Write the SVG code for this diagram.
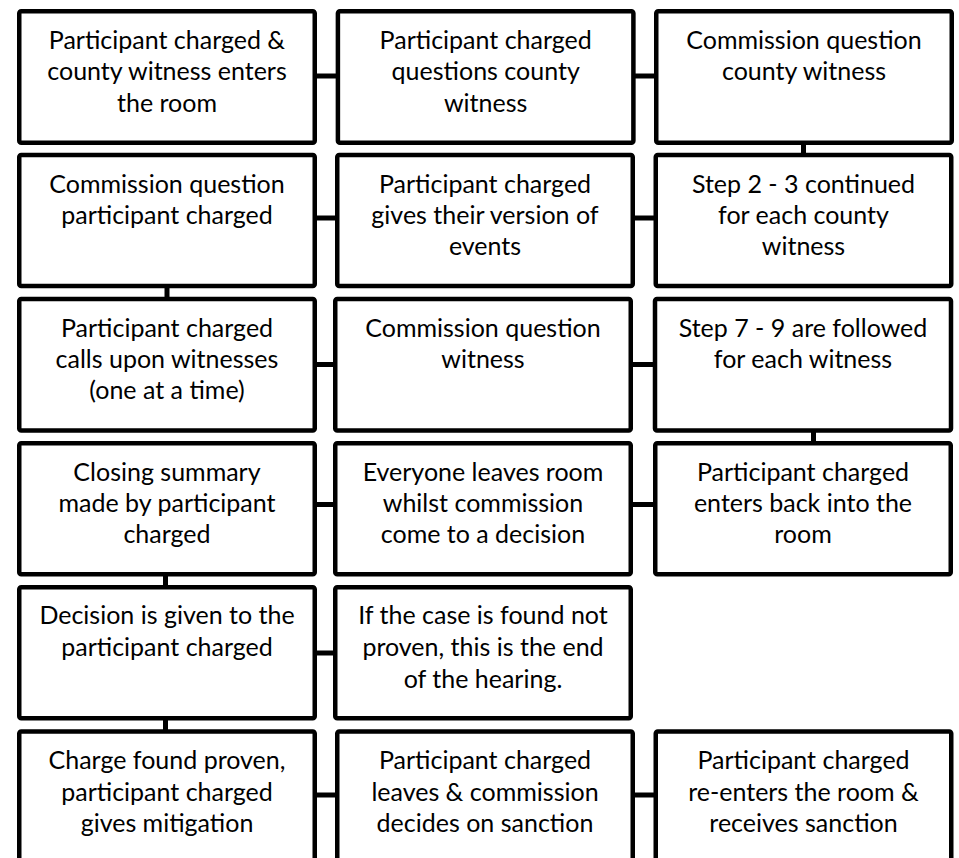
<svg xmlns="http://www.w3.org/2000/svg" width="959" height="858" viewBox="0 0 959 858">
<style>
.box{fill:#fff;stroke:#000;stroke-width:4.5;}
.t{font-family:Lato,"Liberation Sans",sans-serif;font-size:25px;fill:#000;text-anchor:middle;}
.c{stroke:#000;stroke-width:5;fill:none;}
</style>
<rect width="959" height="858" fill="#fff"/>
<g id="connectors">
<line class="c" x1="316" y1="76" x2="337" y2="76"/>
<line class="c" x1="634" y1="76" x2="655" y2="76"/>
<line class="c" x1="803.5" y1="143" x2="803.5" y2="155"/>
<line class="c" x1="316" y1="218" x2="337" y2="218"/>
<line class="c" x1="634" y1="218" x2="655" y2="218"/>
<line class="c" x1="167" y1="287" x2="167" y2="299"/>
<line class="c" x1="316" y1="364.5" x2="338" y2="364.5"/>
<line class="c" x1="632" y1="364.5" x2="655" y2="364.5"/>
<line class="c" x1="813.5" y1="431" x2="813.5" y2="443"/>
<line class="c" x1="316" y1="504.5" x2="338" y2="504.5"/>
<line class="c" x1="632" y1="504.5" x2="655" y2="504.5"/>
<line class="c" x1="165.5" y1="575" x2="165.5" y2="587"/>
<line class="c" x1="316" y1="653" x2="335" y2="653"/>
<line class="c" x1="165.5" y1="719" x2="165.5" y2="731"/>
<line class="c" x1="316" y1="795" x2="337" y2="795"/>
<line class="c" x1="634" y1="795" x2="655" y2="795"/>
</g>
<g id="n1"><rect class="box" x="19.25" y="11.25" width="295.5" height="131.5" rx="2"/>
<text class="t" x="167" y="49"><tspan x="167">Participant charged &amp;</tspan><tspan x="167" dy="31.3">county witness enters</tspan><tspan x="167" dy="31.3">the room</tspan></text></g>
<g id="n2"><rect class="box" x="337.9" y="11.25" width="295.5" height="131.5" rx="2"/>
<text class="t" x="485.7" y="49"><tspan x="485.7">Participant charged</tspan><tspan x="485.7" dy="31.3">questions county</tspan><tspan x="485.7" dy="31.3">witness</tspan></text></g>
<g id="n3"><rect class="box" x="656.25" y="11.25" width="295.5" height="131.5" rx="2"/>
<text class="t" x="804" y="49"><tspan x="804">Commission question</tspan><tspan x="804" dy="31.3">county witness</tspan></text></g>

<g id="n4"><rect class="box" x="19.25" y="155" width="295.5" height="131" rx="2"/>
<text class="t" x="167" y="193"><tspan x="167">Commission question</tspan><tspan x="167" dy="31">participant charged</tspan></text></g>
<g id="n5"><rect class="box" x="337.25" y="155" width="295.5" height="131" rx="2"/>
<text class="t" x="485" y="193"><tspan x="485">Participant charged</tspan><tspan x="485" dy="31">gives their version of</tspan><tspan x="485" dy="31">events</tspan></text></g>
<g id="n6"><rect class="box" x="655.75" y="155" width="295.5" height="131" rx="2"/>
<text class="t" x="803.5" y="193"><tspan x="803.5">Step 2 - 3 continued</tspan><tspan x="803.5" dy="31">for each county</tspan><tspan x="803.5" dy="31">witness</tspan></text></g>

<g id="n7"><rect class="box" x="19.25" y="299" width="295.5" height="131.5" rx="2"/>
<text class="t" x="167" y="337"><tspan x="167">Participant charged</tspan><tspan x="167" dy="31">calls upon witnesses</tspan><tspan x="167" dy="31">(one at a time)</tspan></text></g>
<g id="n8"><rect class="box" x="335.25" y="299" width="295.5" height="131.5" rx="2"/>
<text class="t" x="483" y="337"><tspan x="483">Commission question</tspan><tspan x="483" dy="31">witness</tspan></text></g>
<g id="n9"><rect class="box" x="655" y="299" width="296" height="131.5" rx="2"/>
<text class="t" x="803" y="337"><tspan x="803">Step 7 - 9 are followed</tspan><tspan x="803" dy="31">for each witness</tspan></text></g>

<g id="n10"><rect class="box" x="19.25" y="443.25" width="295.5" height="131" rx="2"/>
<text class="t" x="167" y="481"><tspan x="167">Closing summary</tspan><tspan x="167" dy="31">made by participant</tspan><tspan x="167" dy="31">charged</tspan></text></g>
<g id="n11"><rect class="box" x="335.25" y="443.25" width="295.5" height="131" rx="2"/>
<text class="t" x="483" y="481"><tspan x="483">Everyone leaves room</tspan><tspan x="483" dy="31">whilst commission</tspan><tspan x="483" dy="31">come to a decision</tspan></text></g>
<g id="n12"><rect class="box" x="655.25" y="443.25" width="295.5" height="131" rx="2"/>
<text class="t" x="803" y="481"><tspan x="803">Participant charged</tspan><tspan x="803" dy="31">enters back into the</tspan><tspan x="803" dy="31">room</tspan></text></g>

<g id="n13"><rect class="box" x="19.25" y="587.25" width="295.5" height="131" rx="2"/>
<text class="t" x="167" y="624"><tspan x="167">Decision is given to the</tspan><tspan x="167" dy="32">participant charged</tspan></text></g>
<g id="n14"><rect class="box" x="335.25" y="587.25" width="295.5" height="131" rx="2"/>
<text class="t" x="483" y="624"><tspan x="483">If the case is found not</tspan><tspan x="483" dy="32">proven, this is the end</tspan><tspan x="483" dy="32">of the hearing.</tspan></text></g>

<g id="n15"><rect class="box" x="19.25" y="731.5" width="295.5" height="140" rx="2"/>
<text class="t" x="167" y="769"><tspan x="167">Charge found proven,</tspan><tspan x="167" dy="31.5">participant charged</tspan><tspan x="167" dy="31.5">gives mitigation</tspan></text></g>
<g id="n16"><rect class="box" x="337.25" y="731.5" width="295.5" height="140" rx="2"/>
<text class="t" x="485" y="769"><tspan x="485">Participant charged</tspan><tspan x="485" dy="31.5">leaves &amp; commission</tspan><tspan x="485" dy="31.5">decides on sanction</tspan></text></g>
<g id="n17"><rect class="box" x="655.75" y="731.5" width="295.5" height="140" rx="2"/>
<text class="t" x="803.5" y="769"><tspan x="803.5">Participant charged</tspan><tspan x="803.5" dy="31.5">re-enters the room &amp;</tspan><tspan x="803.5" dy="31.5">receives sanction</tspan></text></g>
</svg>
